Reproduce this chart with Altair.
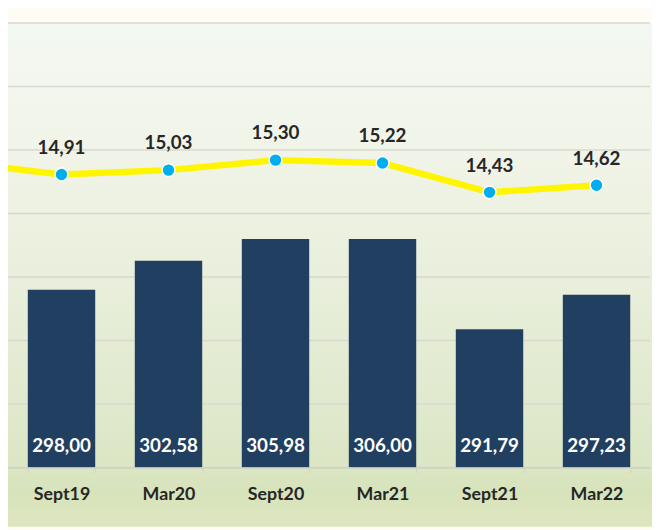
import altair as alt
import pandas as pd

# ---- data ----
categories = ["Sept19", "Mar20", "Sept20", "Mar21", "Sept21", "Mar22"]
bar_values = [298.00, 302.58, 305.98, 306.00, 291.79, 297.23]
line_values = [14.91, 15.03, 15.30, 15.22, 14.43, 14.62]
prev_line_value = 15.25          # previous period, cut off at the left edge
grid_values = [270, 280, 290, 300, 310, 320, 330, 340]
bar_domain = [270, 340]
line_domain = [7, 19]

W, H = 650, 450
FONT = "Lato"

def fmt(v):
    return f"{v:.2f}".replace(".", ",")

bars_df = pd.DataFrame({
    "cat": categories,
    "value": bar_values,
    "label": [fmt(v) for v in bar_values],
})
line_df = pd.DataFrame({
    "idx": list(range(-1, len(categories))),
    "value": [prev_line_value] + line_values,
    "label": [""] + [fmt(v) for v in line_values],
})
grid_df = pd.DataFrame({"v": grid_values})

bg = alt.Chart(pd.DataFrame({"a": [0]})).mark_rect(
    fill=alt.Gradient(
        gradient="linear",
        stops=[
            alt.GradientStop(color="#f4f8f3", offset=0),
            alt.GradientStop(color="#f1f4e8", offset=0.25),
            alt.GradientStop(color="#e9efdc", offset=0.5),
            alt.GradientStop(color="#e0e9cd", offset=0.76),
            alt.GradientStop(color="#dbe6c4", offset=0.88),
            alt.GradientStop(color="#d7e3bb", offset=0.93),
            alt.GradientStop(color="#dee6c0", offset=1.0),
        ],
        x1=0, x2=0, y1=0, y2=1,
    ),
).encode(
    x=alt.value(0), x2=alt.value(W + 2), y=alt.value(0), y2=alt.value(H + 60)
)

ybar = alt.Scale(domain=bar_domain, zero=False, nice=False)

grid = alt.Chart(grid_df).mark_rule(color="#d9d8d0", strokeWidth=1.5).encode(
    y=alt.Y("v:Q", scale=ybar, axis=None)
)

xband = alt.X(
    "cat:N", sort=categories, title=None,
    scale=alt.Scale(paddingInner=0.37, paddingOuter=0.185),
    axis=alt.Axis(
        labelAngle=0, labelFont=FONT, labelFontSize=18, labelFontWeight="bold",
        labelColor="#262626", domainColor="#cfd2c4", domainWidth=1.5,
        tickColor="#cfd2c4", tickSize=5, tickBand="extent", labelPadding=13,
        grid=False, zindex=1,
    ),
)

bars = alt.Chart(bars_df).mark_bar(color="#213f60").encode(
    x=xband,
    y=alt.Y("value:Q", scale=ybar, axis=None),
    y2=alt.datum(270),
)
bar_text = alt.Chart(bars_df).mark_text(
    font=FONT, fontSize=19, fontWeight="bold", color="white",
    baseline="middle", dy=-22,
).encode(
    x=alt.X("cat:N", sort=categories),
    y=alt.Y("base:Q", scale=ybar, axis=None),
    text="label:N",
).transform_calculate(base="270")

bar_layer = alt.layer(bars, bar_text)

xq = alt.X("idx:Q", scale=alt.Scale(domain=[-0.5, len(categories) - 0.5], nice=False, zero=False), axis=None)
yl = alt.Y("value:Q", scale=alt.Scale(domain=line_domain, zero=False, nice=False), axis=None)

line = alt.Chart(line_df).mark_line(color="#fff500", strokeWidth=6.5, clip=True).encode(x=xq, y=yl)
pts = alt.Chart(line_df).transform_filter("datum.idx >= 0").mark_point(
    filled=True, fill="#00aeef", stroke="white", strokeWidth=1.5, size=170, opacity=1
).encode(x=xq, y=yl)
line_text = alt.Chart(line_df).transform_filter("datum.idx >= 0").mark_text(
    font=FONT, fontSize=19, fontWeight="bold", color="#262626",
    baseline="middle", dy=-27,
).encode(x=xq, y=yl, text="label:N")

line_layer = alt.layer(line, pts, line_text)

chart = alt.layer(bg, grid, bar_layer, line_layer).resolve_scale(
    x="independent", y="independent"
).properties(
    width=W, height=H,
    autosize=alt.AutoSizeParams(type="none"),
    padding={"left": 0, "top": 12, "right": 2, "bottom": 60},
    background="#fefcf5",
).configure_view(stroke=None)

chart.save("out.html", embed_options={"renderer": "svg", "actions": False})
